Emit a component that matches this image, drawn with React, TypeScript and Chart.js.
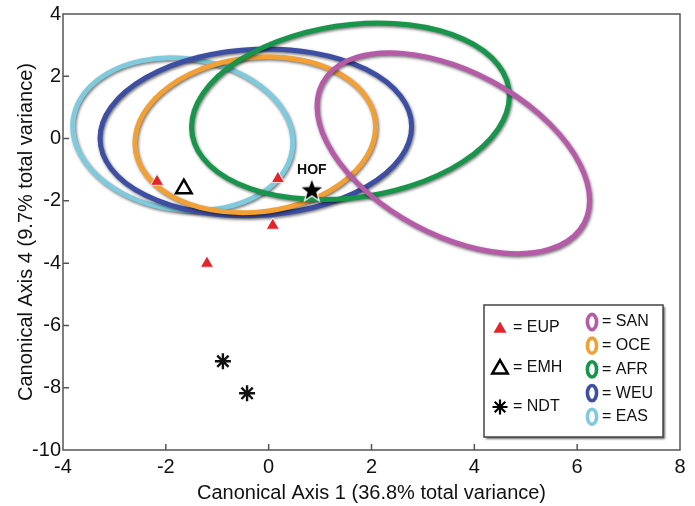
import React, { useEffect, useRef } from "react";
import { Chart, registerables } from "chart.js";

Chart.register(...registerables);

// ---- axis ticks ----
const xTickValues = [-4, -2, 0, 2, 4, 6, 8];
const yTickValues = [4, 2, 0, -2, -4, -6, -8, -10];

// ---- fossil specimens ----
const eupX = [-2.17, 0.18, 0.08, -1.2];
const eupY = [-1.38, -1.29, -2.79, -4.01];
const emhX = [-1.65];
const emhY = [-1.61];
const hofX = [0.84];
const hofY = [-1.67];
const ndtX = [-0.89, -0.42];
const ndtY = [-7.15, -8.18];

// ---- modern population ellipses (drawing order) ----
const groupNames = ["EAS", "WEU", "OCE", "AFR", "SAN"];
const groupColors = ["#7fcbdd", "#3d4ea3", "#f29f33", "#16954b", "#b55ba8"];
const ellipseCX = [-1.67, -0.25, -0.26, 1.59, 3.59];
const ellipseCY = [0.14, 0.2, 0.12, 0.875, -0.47];
const ellipseUX = [2.14, 3.03, 2.34, 3.09, 2.65];
const ellipseUY = [-0.26, 0.19, 0.26, 0.5, -1.51];
const ellipseVY = [2.44, 2.67, 2.49, 2.79, 2.85];

const legendEllipseOrder = ["SAN", "OCE", "AFR", "WEU", "EAS"];

const FONT = "'Liberation Sans', Arial, Helvetica, sans-serif";

function makeStar(): HTMLCanvasElement {
  const c = document.createElement("canvas");
  c.width = 30;
  c.height = 30;
  const g = c.getContext("2d")!;
  g.beginPath();
  for (let k = 0; k < 10; k++) {
    const r = k % 2 === 0 ? 12.5 : 5.2;
    const a = -Math.PI / 2 + (k * Math.PI) / 5;
    const px = 15 + r * Math.cos(a);
    const py = 15 + r * Math.sin(a);
    if (k === 0) g.moveTo(px, py);
    else g.lineTo(px, py);
  }
  g.closePath();
  g.fillStyle = "#000";
  g.fill();
  g.lineWidth = 1.2;
  g.strokeStyle = "#ffffff";
  g.stroke();
  return c;
}

function triPath(ctx: CanvasRenderingContext2D, x: number, y: number, r: number) {
  ctx.beginPath();
  let rad = 0;
  for (let k = 0; k < 3; k++) {
    const px = x + Math.sin(rad) * r;
    const py = y - Math.cos(rad) * r;
    if (k === 0) ctx.moveTo(px, py);
    else ctx.lineTo(px, py);
    rad += (2 * Math.PI) / 3;
  }
  ctx.closePath();
}

const overlayPlugin = {
  id: "overlay",
  beforeDatasetsDraw(chart: any) {
    const ctx: CanvasRenderingContext2D = chart.ctx;
    const xs = chart.scales.x;
    const ys = chart.scales.y;
    const ca = chart.chartArea;

    // frame + inward ticks
    ctx.save();
    ctx.strokeStyle = "#555";
    ctx.lineWidth = 1.5;
    ctx.strokeRect(ca.left, ca.top, ca.right - ca.left, ca.bottom - ca.top);
    ctx.beginPath();
    xTickValues.slice(1, -1).forEach((v) => {
      const px = xs.getPixelForValue(v);
      ctx.moveTo(px, ca.bottom);
      ctx.lineTo(px, ca.bottom - 6);
    });
    yTickValues.slice(1, -1).forEach((v) => {
      const py = ys.getPixelForValue(v);
      ctx.moveTo(ca.left, py);
      ctx.lineTo(ca.left + 6, py);
    });
    ctx.stroke();
    ctx.restore();

    // ellipses
    ctx.save();
    ctx.beginPath();
    ctx.rect(ca.left, ca.top, ca.right - ca.left, ca.bottom - ca.top);
    ctx.clip();
    for (let i = 0; i < groupNames.length; i++) {
      const cx = xs.getPixelForValue(ellipseCX[i]);
      const cy = ys.getPixelForValue(ellipseCY[i]);
      const ux = xs.getPixelForValue(ellipseCX[i] + ellipseUX[i]) - cx;
      const uy = ys.getPixelForValue(ellipseCY[i] + ellipseUY[i]) - cy;
      const vy = ys.getPixelForValue(ellipseCY[i] + ellipseVY[i]) - cy;
      ctx.save();
      ctx.beginPath();
      ctx.transform(ux, uy, 0, vy, cx, cy);
      ctx.arc(0, 0, 1, 0, Math.PI * 2);
      ctx.restore();
      ctx.save();
      ctx.shadowColor = "rgba(0,0,0,0.55)";
      ctx.shadowBlur = 3;
      ctx.shadowOffsetX = 1;
      ctx.shadowOffsetY = 1.5;
      ctx.lineWidth = 5;
      ctx.strokeStyle = groupColors[i];
      ctx.stroke();
      ctx.restore();
    }
    ctx.restore();
  },
  afterDatasetsDraw(chart: any) {
    const ctx: CanvasRenderingContext2D = chart.ctx;
    const xs = chart.scales.x;
    const ys = chart.scales.y;
    const ca = chart.chartArea;

    // HOF label
    ctx.save();
    ctx.font = `bold 14px ${FONT}`;
    ctx.fillStyle = "#111";
    ctx.textAlign = "center";
    ctx.textBaseline = "middle";
    ctx.fillText("HOF", xs.getPixelForValue(hofX[0]), ys.getPixelForValue(hofY[0]) - 20);
    ctx.restore();

    // legend box
    const bx = ca.right - 196;
    const by = ca.bottom - 145;
    const bw = 179;
    const bh = 132;
    ctx.save();
    ctx.fillStyle = "#fff";
    ctx.shadowColor = "rgba(0,0,0,0.6)";
    ctx.shadowBlur = 2;
    ctx.shadowOffsetX = 2;
    ctx.shadowOffsetY = 2;
    ctx.fillRect(bx, by, bw, bh);
    ctx.restore();
    ctx.save();
    ctx.strokeStyle = "#444";
    ctx.lineWidth = 1.5;
    ctx.strokeRect(bx, by, bw, bh);

    ctx.font = `16px ${FONT}`;
    ctx.fillStyle = "#111";
    ctx.textAlign = "left";
    ctx.textBaseline = "middle";

    // EUP
    const sx = bx + 16;
    const tx = bx + 29;
    triPath(ctx, sx, by + 24, 7.5);
    ctx.fillStyle = "#e3242b";
    ctx.fill();
    ctx.fillStyle = "#111";
    ctx.fillText("= EUP", tx, by + 23);
    // EMH
    triPath(ctx, sx, by + 64, 9);
    ctx.strokeStyle = "#000";
    ctx.lineWidth = 2.5;
    ctx.stroke();
    ctx.fillText("= EMH", tx, by + 63);
    // NDT asterisk
    ctx.beginPath();
    const ay = by + 102;
    for (let k = 0; k < 4; k++) {
      const a = (k * Math.PI) / 4;
      ctx.moveTo(sx + 7.5 * Math.cos(a), ay + 7.5 * Math.sin(a));
      ctx.lineTo(sx - 7.5 * Math.cos(a), ay - 7.5 * Math.sin(a));
    }
    ctx.lineWidth = 2.2;
    ctx.stroke();
    ctx.fillText("= NDT", tx, by + 102);

    // ellipse entries
    legendEllipseOrder.forEach((name, k) => {
      const idx = groupNames.indexOf(name);
      const ex = bx + 108;
      const ey = by + 17 + k * 23.7;
      ctx.beginPath();
      ctx.ellipse(ex, ey, 4.6, 7.6, 0, 0, Math.PI * 2);
      ctx.lineWidth = 3.6;
      ctx.strokeStyle = groupColors[idx];
      ctx.stroke();
      ctx.fillStyle = "#111";
      ctx.fillText("= " + name, bx + 118, ey);
    });
    ctx.restore();
  },
};

export default function App() {
  const ref = useRef<HTMLCanvasElement>(null);

  useEffect(() => {
    if (!ref.current) return;
    const star = makeStar();
    const pts = (xa: number[], ya: number[]) => xa.map((x, i) => ({ x, y: ya[i] }));
    const chart = new Chart(ref.current, {
      type: "scatter",
      data: {
        datasets: [
          {
            label: "EUP",
            data: pts(eupX, eupY),
            pointStyle: "triangle",
            pointRadius: 7.5,
            backgroundColor: "#e3242b",
            borderColor: "rgba(255,255,255,0.8)",
            borderWidth: 1,
          },
          {
            label: "EMH",
            data: pts(emhX, emhY),
            pointStyle: "triangle",
            pointRadius: 9,
            backgroundColor: "rgba(0,0,0,0)",
            borderColor: "#000",
            borderWidth: 2.5,
          },
          {
            label: "NDT",
            data: pts(ndtX, ndtY),
            pointStyle: "star",
            pointRadius: 8,
            borderColor: "#111",
            borderWidth: 2.4,
          },
          {
            label: "HOF",
            data: pts(hofX, hofY),
            pointStyle: star,
            pointRadius: 12,
          },
        ],
      },
      options: {
        responsive: false,
        animation: false,
        events: [],
        layout: { padding: { top: 12, right: 15, left: 0, bottom: 0 } },
        plugins: {
          legend: { display: false },
          tooltip: { enabled: false },
        },
        scales: {
          x: {
            type: "linear",
            min: -4,
            max: 8,
            afterBuildTicks: (s: any) => {
              s.ticks = xTickValues.map((v) => ({ value: v }));
            },
            afterFit: (s: any) => {
              s.height = 56;
            },
            grid: { display: false, drawTicks: false },
            border: { display: false },
            ticks: {
              color: "#111",
              padding: 5,
              font: { family: FONT, size: 20 },
              maxRotation: 0,
            },
            title: {
              display: true,
              text: "Canonical Axis 1 (36.8% total variance)",
              color: "#111",
              font: { family: FONT, size: 20 },
              padding: { top: 0, bottom: 1 },
            },
          },
          y: {
            type: "linear",
            min: -10,
            max: 4,
            afterBuildTicks: (s: any) => {
              s.ticks = yTickValues.map((v) => ({ value: v }));
            },
            afterFit: (s: any) => {
              s.width = 63;
            },
            grid: { display: false, drawTicks: false },
            border: { display: false },
            ticks: {
              color: "#111",
              padding: 2,
              font: { family: FONT, size: 20 },
            },
            title: {
              display: true,
              text: "Canonical Axis 4 (9.7% total variance)",
              color: "#111",
              font: { family: FONT, size: 20 },
              padding: { top: 14, bottom: 0 },
            },
          },
        },
      },
      plugins: [overlayPlugin],
    } as any);
    return () => chart.destroy();
  }, []);

  return (
    <div style={{ position: "fixed", left: 0, top: 0, width: 695, height: 506, background: "#fff" }}>
      <canvas ref={ref} width={695} height={506} style={{ display: "block" }} />
    </div>
  );
}
